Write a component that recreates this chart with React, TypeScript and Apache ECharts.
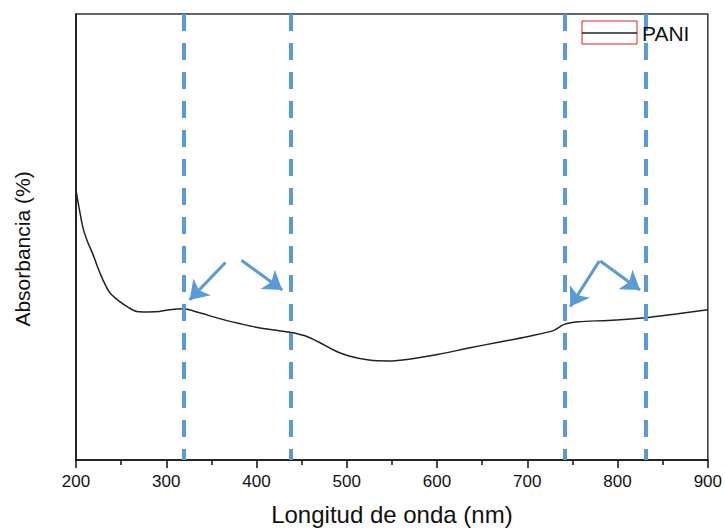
import React, { useEffect, useRef } from "react";
import * as echarts from "echarts";

// Wavelength (nm) and absorbance (arbitrary units)
const wavelengths = [200, 203, 207.7, 213, 218.8, 224, 229.8, 237.5, 248.6, 258, 267.3, 280, 292.7, 303.8, 319.2, 336.9, 359, 381, 401, 425, 438.5, 452.8, 469.4, 486, 502.5, 524.6, 546.7, 568.8, 601.9, 635, 668, 701, 728.9, 741, 756.5, 789.6, 831.5, 866.9, 900];
const absorbance = [60.5, 57, 52.1, 48.8, 46.1, 43.2, 40.4, 37.5, 35.5, 34.2, 33.3, 33.2, 33.3, 33.7, 33.9, 33.0, 31.7, 30.6, 29.7, 29.0, 28.6, 27.9, 26.4, 24.6, 23.3, 22.4, 22.2, 22.6, 23.7, 25.1, 26.4, 27.7, 29.0, 30.4, 31.0, 31.3, 31.9, 32.8, 33.7];

// Vertical dashed markers (nm)
const markerLines = [319, 438, 741, 831];

// Arrow annotations: [startX, startY, endX, endY] in data units
const arrows = [
  [365.6, 44.3, 325.9, 35.9],
  [383.3, 44.8, 428.5, 38.1],
  [779.7, 44.6, 747.6, 34.4],
  [780.8, 44.6, 824.9, 38.1],
];

const xTicks = { min: 200, max: 900, interval: 100 };
const seriesName = "PANI";

export default function App() {
  const ref = useRef<HTMLDivElement>(null);
  useEffect(() => {
    document.body.style.margin = "0";
    if (!ref.current) return;
    const chart = echarts.init(ref.current, null, { renderer: "svg" });
    const font = "Liberation Sans, Arial, sans-serif";
    const blue = "#5b9bd5";
    chart.setOption({
      animation: false,
      backgroundColor: "#ffffff",
      grid: {
        left: 76,
        right: 15,
        top: 14,
        bottom: 66,
        show: true,
        borderColor: "#333",
        borderWidth: 1.5,
        backgroundColor: "transparent",
      },
      xAxis: {
        type: "value",
        min: xTicks.min,
        max: xTicks.max,
        interval: xTicks.interval,
        name: "Longitud de onda (nm)",
        nameLocation: "middle",
        nameGap: 42,
        nameTextStyle: { fontSize: 24, color: "#111", fontFamily: font },
        axisLine: { show: true, lineStyle: { color: "#111", width: 1.5 } },
        axisTick: { show: true, length: 8, inside: false, lineStyle: { color: "#111", width: 1.5 } },
        minorTick: { show: true, splitNumber: 2, length: 5, lineStyle: { color: "#111", width: 1.5 } },
        axisLabel: { fontSize: 17, color: "#111", fontFamily: font, margin: 13 },
        splitLine: { show: false },
      },
      yAxis: {
        type: "value",
        min: 0,
        max: 100,
        name: "Absorbancia (%)",
        nameLocation: "middle",
        nameGap: 43,
        nameRotate: 90,
        nameTextStyle: { fontSize: 21, color: "#111", fontFamily: font, padding: [0, 24, 0, 0] },
        axisLine: { show: true, lineStyle: { color: "#111", width: 1.5 } },
        axisTick: { show: false },
        axisLabel: { show: false },
        splitLine: { show: false },
      },
      series: [
        {
          name: seriesName,
          type: "line",
          data: wavelengths.map((w, i) => [w, absorbance[i]]),
          showSymbol: false,
          smooth: 0.3,
          lineStyle: { color: "#222", width: 1.5 },
          z: 3,
          markLine: {
            silent: true,
            symbol: "none",
            label: { show: false },
            lineStyle: { color: blue, width: 4, type: [17, 12] },
            data: markerLines.map((x) => [
              { coord: [x, 100] },
              { coord: [x, 0] },
            ]),
          },
        },
        {
          name: "arrows",
          type: "line",
          data: [[200, -10]],
          showSymbol: false,
          lineStyle: { opacity: 0 },
          markLine: {
            silent: true,
            symbol: ["none", "arrow"],
            symbolSize: 18,
            label: { show: false },
            lineStyle: { color: blue, width: 3, type: "solid" },
            itemStyle: { color: blue },
            data: arrows.map((a) => [
              { coord: [a[0], a[1]] },
              { coord: [a[2], a[3]] },
            ]),
          },
        },
      ],
      graphic: [
        {
          type: "rect",
          shape: { x: 582, y: 21, width: 55, height: 23 },
          style: { fill: "#fff", stroke: "#e02020", lineWidth: 1 },
          z: 10,
        },
        {
          type: "line",
          shape: { x1: 582, y1: 33, x2: 637, y2: 33 },
          style: { stroke: "#222", lineWidth: 1.5 },
          z: 11,
        },
        {
          type: "text",
          x: 642,
          y: 33,
          style: {
            text: seriesName,
            fontSize: 21,
            fontFamily: font,
            fill: "#111",
            verticalAlign: "middle",
            align: "left",
          },
          z: 11,
        },
      ],
    });
    return () => chart.dispose();
  }, []);
  return <div ref={ref} style={{ width: 725, height: 531 }} />;
}
